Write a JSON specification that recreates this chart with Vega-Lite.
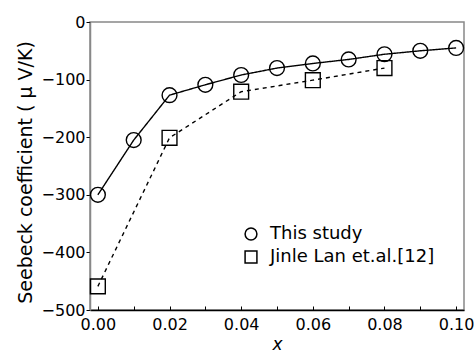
{
  "$schema": "https://vega.github.io/schema/vega-lite/v6.json",
  "width": 374,
  "height": 288,
  "autosize": {"type": "none"},
  "padding": {"left": 90, "top": 22, "right": 11, "bottom": 45},
  "background": "white",
  "config": {
    "font": "DejaVu Sans",
    "view": {"stroke": "#888888", "strokeWidth": 1.5},
    "axis": {"grid": false, "labelColor": "black", "titleColor": "black", "labelFont": "DejaVu Sans", "titleFont": "DejaVu Sans"}
  },
  "data": {
    "values": [
      {"x": 0.00, "y": -300, "series": "This study"},
      {"x": 0.01, "y": -205, "series": "This study"},
      {"x": 0.02, "y": -127, "series": "This study"},
      {"x": 0.03, "y": -109, "series": "This study"},
      {"x": 0.04, "y": -92, "series": "This study"},
      {"x": 0.05, "y": -80, "series": "This study"},
      {"x": 0.06, "y": -72, "series": "This study"},
      {"x": 0.07, "y": -65, "series": "This study"},
      {"x": 0.08, "y": -56, "series": "This study"},
      {"x": 0.09, "y": -50, "series": "This study"},
      {"x": 0.10, "y": -45, "series": "This study"},
      {"x": 0.00, "y": -459, "series": "Jinle Lan et.al.[12]"},
      {"x": 0.02, "y": -201, "series": "Jinle Lan et.al.[12]"},
      {"x": 0.04, "y": -121, "series": "Jinle Lan et.al.[12]"},
      {"x": 0.06, "y": -101, "series": "Jinle Lan et.al.[12]"},
      {"x": 0.08, "y": -80, "series": "Jinle Lan et.al.[12]"}
    ]
  },
  "encoding": {
    "x": {
      "field": "x", "type": "quantitative",
      "scale": {"domain": [-0.0022, 0.1022], "nice": false, "zero": false},
      "axis": {
        "title": "x", "titleFontStyle": "italic", "titleFontWeight": "normal", "titleFontSize": 17, "titlePadding": 4,
        "values": [0, 0.01, 0.02, 0.03, 0.04, 0.05, 0.06, 0.07, 0.08, 0.09, 0.1],
        "labelExpr": "round(datum.value*100) % 2 == 0 ? format(datum.value, '.2f') : ''",
        "labelFontSize": 16, "labelPadding": 10, "labelFlush": false,
        "tickSize": -4, "tickColor": "black", "domainColor": "black", "domainWidth": 1.5
      }
    },
    "y": {
      "field": "y", "type": "quantitative",
      "scale": {"domain": [-500, 0], "nice": false},
      "axis": {
        "title": "Seebeck coefficient ( μ V/K)", "titleFontWeight": "normal", "titleFontSize": 19, "titlePadding": 6, "titleY": 150,
        "values": [-500, -400, -300, -200, -100, 0],
        "labelFontSize": 16, "labelPadding": 1, "labelFlush": false,
        "tickSize": 4, "tickColor": "black", "domainColor": "#888888", "domainWidth": 1.5
      }
    }
  },
  "layer": [
    {
      "mark": {"type": "line", "color": "black", "strokeWidth": 1.4},
      "encoding": {
        "detail": {"field": "series"},
        "strokeDash": {
          "field": "series", "type": "nominal",
          "scale": {"domain": ["This study", "Jinle Lan et.al.[12]"], "range": [[1, 0], [4, 4]]},
          "legend": null
        }
      }
    },
    {
      "mark": {"type": "point", "filled": false, "color": "black", "strokeWidth": 1.4, "opacity": 1},
      "encoding": {
        "shape": {
          "field": "series", "type": "nominal",
          "scale": {"domain": ["This study", "Jinle Lan et.al.[12]"], "range": ["circle", "square"]},
          "legend": {
            "title": null, "orient": "none", "legendX": 152, "legendY": 203,
            "labelFontSize": 18, "labelColor": "black", "labelFont": "DejaVu Sans", "labelLimit": 300,
            "symbolSize": 140, "symbolStrokeColor": "black", "symbolStrokeWidth": 1.5, "symbolFillColor": "transparent",
            "rowPadding": 5, "labelOffset": 10, "padding": 0
          }
        },
        "size": {"value": 220}
      }
    }
  ],
  "resolve": {"legend": {"shape": "independent", "strokeDash": "independent"}}
}
